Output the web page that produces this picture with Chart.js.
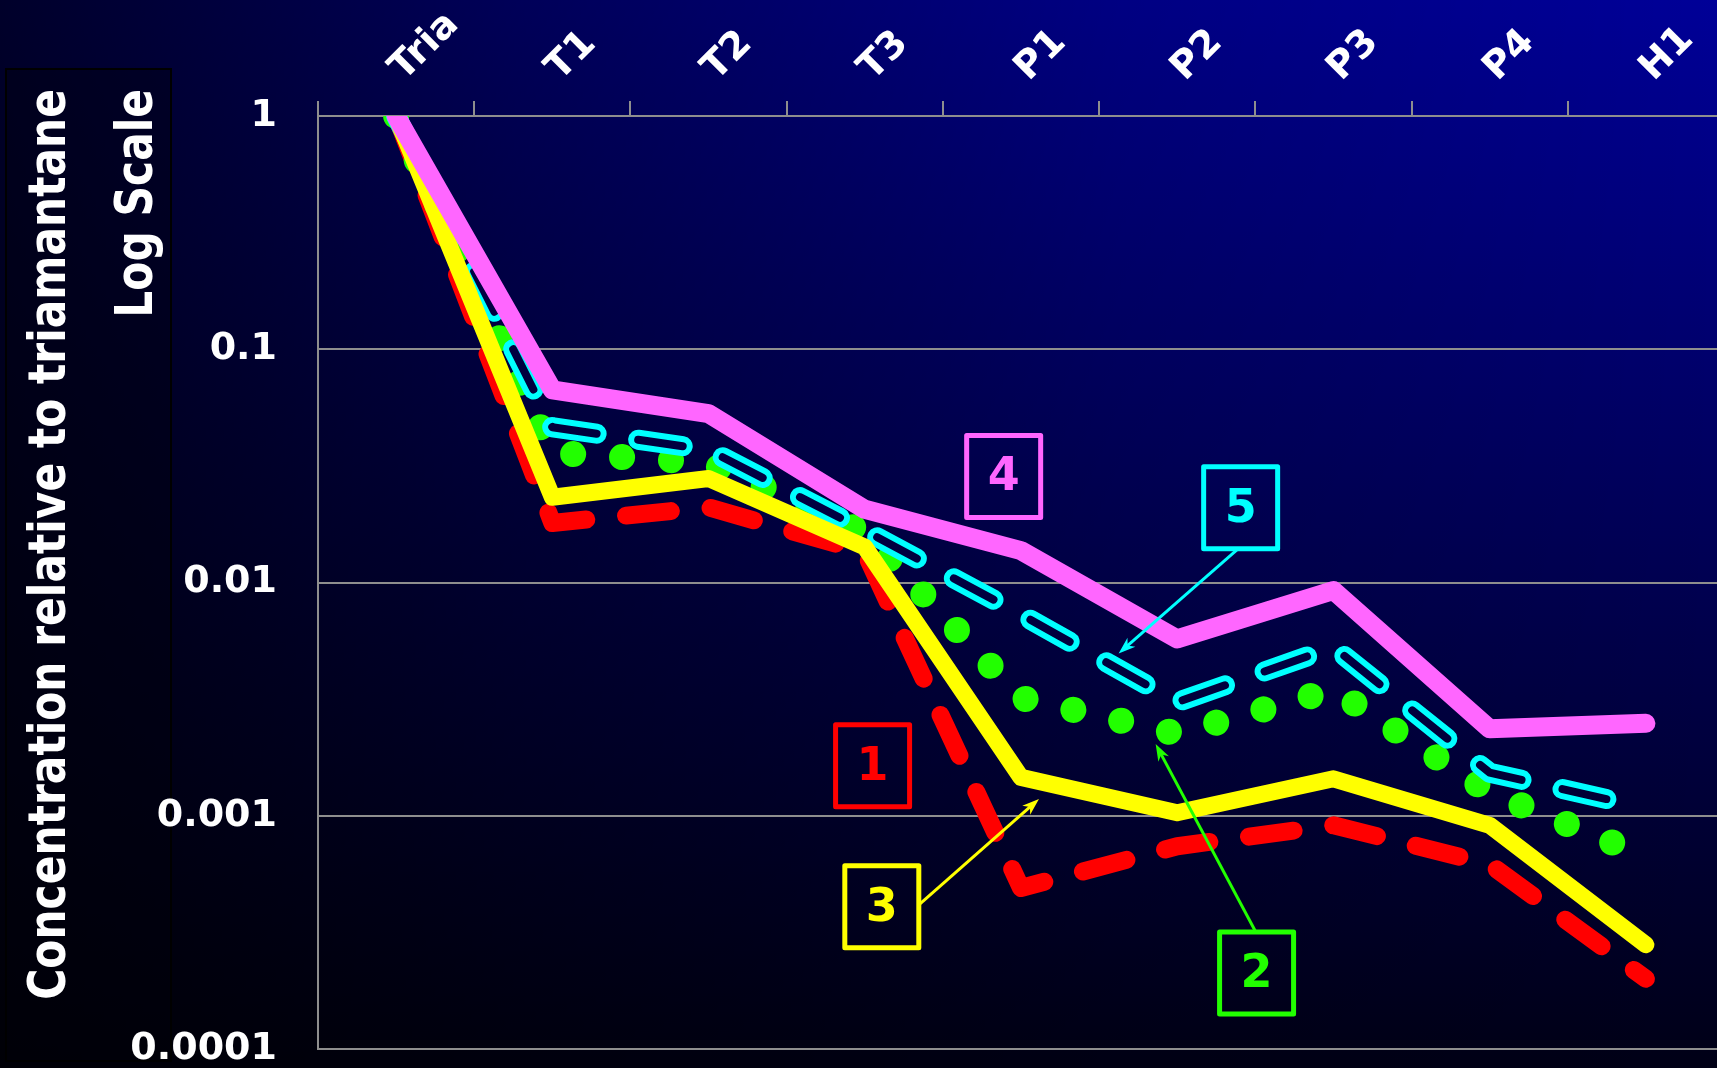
<!DOCTYPE html>
<html>
<head>
<meta charset="utf-8">
<script src="https://cdn.jsdelivr.net/npm/chart.js@4.4.1/dist/chart.umd.min.js"></script>
<style>
html, body { margin: 0; padding: 0; overflow: hidden; width: 1717px; height: 1068px; background: #000018; }
#wrap {
  position: absolute; left: 0; top: 0; width: 1724px; height: 1068px;
  background:
    linear-gradient(to right, rgba(0,0,0,0.72) 0%, rgba(0,0,0,0.42) 30%, rgba(0,0,0,0.14) 65%, rgba(0,0,0,0) 100%),
    linear-gradient(to bottom, #000098 0%, #000016 100%);
}
canvas { display: block; }
</style>
</head>
<body>
<div id="wrap"><canvas id="c" width="1724" height="1068"></canvas></div>
<script>
// ---- data ----
const categories = ['Tria', 'T1', 'T2', 'T3', 'P1', 'P2', 'P3', 'P4', 'H1'];
const series1 = [1, 0.018, 0.021, 0.0135, 0.00049, 0.00074, 0.00091, 0.00062, 0.0002];
const series2 = [1, 0.036, 0.0327, 0.0164, 0.0032, 0.00225, 0.00347, 0.00126, 0.00067];
const series3 = [1, 0.0232, 0.0279, 0.0142, 0.00146, 0.00103, 0.00144, 0.00091, 0.00028];
const series4 = [1, 0.067, 0.053, 0.0206, 0.0137, 0.00573, 0.00924, 0.00236, 0.00249];
const series5 = [1, 0.0463, 0.037, 0.0167, 0.0073, 0.00307, 0.00528, 0.00153, 0.00108];
const yTickValues = [0.0001, 0.001, 0.01, 0.1, 1];
const yTickLabels = ['0.0001', '0.001', '0.01', '0.1', '1'];
const yTitleLines = ['Concentration relative to triamantane', 'Log Scale'];
const seriesLabels = ['1', '2', '3', '4', '5'];

// callout boxes, placed in data coordinates (category index, value)
const callouts = [
  { text: '1', color: '#ff0000', x: 3.05, y: 0.00164 },
  { text: '2', color: '#22ff00', x: 5.508, y: 0.000212, from: [5.502, 0.000318], to: [4.862, 0.00203] },
  { text: '3', color: '#ffff00', x: 3.109, y: 0.000407, from: [3.346, 0.000415], to: [4.115, 0.00118] },
  { text: '4', color: '#ff66ff', x: 3.889, y: 0.0285 },
  { text: '5', color: '#00ffff', x: 5.406, y: 0.0209, from: [5.393, 0.0140], to: [4.625, 0.00496] }
];

const GRID = '#8e8e8e';
const FONT = '"DejaVu Sans", Verdana, sans-serif';

const titleBoxPlugin = {
  id: 'titleBox',
  beforeDraw(chart) {
    const ctx = chart.ctx;
    ctx.save();
    ctx.fillStyle = 'rgba(0,0,12,0.35)';
    ctx.fillRect(6, 69, 165, 992);
    ctx.strokeStyle = '#000000';
    ctx.lineWidth = 2;
    ctx.strokeRect(6, 69, 165, 992);
    ctx.fillStyle = '#ffffff';
    ctx.font = 'bold 52px ' + FONT;
    ctx.textAlign = 'right';
    ctx.textBaseline = 'alphabetic';
    const baselines = [65, 152];
    yTitleLines.forEach((t, i) => {
      ctx.save();
      ctx.translate(baselines[i], 89);
      ctx.rotate(-Math.PI / 2);
      ctx.scale(0.815, 1);
      ctx.fillText(t, 0, 0);
      ctx.restore();
    });
    ctx.restore();
  }
};

const hollowPlugin = {
  id: 'hollow',
  beforeDatasetDraw(chart, args) {
    if (chart.data.datasets[args.index].hollowInner) {
      chart.ctx.save();
      chart.ctx.globalCompositeOperation = 'destination-out';
    }
  },
  afterDatasetDraw(chart, args) {
    if (chart.data.datasets[args.index].hollowInner) {
      chart.ctx.restore();
    }
  }
};

const calloutPlugin = {
  id: 'callouts',
  afterDatasetsDraw(chart) {
    const ctx = chart.ctx;
    const xs = chart.scales.x, ys = chart.scales.y;
    ctx.save();
    callouts.forEach(c => {
      const cx = xs.getPixelForValue(c.x), cy = ys.getPixelForValue(c.y);
      const w = 74, h = 82;
      ctx.strokeStyle = c.color;
      ctx.fillStyle = c.color;
      ctx.lineWidth = 5;
      ctx.lineJoin = 'round';
      ctx.strokeRect(cx - w / 2, cy - h / 2, w, h);
      ctx.font = 'bold 46px ' + FONT;
      ctx.textAlign = 'center';
      ctx.textBaseline = 'middle';
      ctx.fillText(c.text, cx, cy + 2);
      if (c.from) {
        const sx = xs.getPixelForValue(c.from[0]), sy = ys.getPixelForValue(c.from[1]);
        const tx = xs.getPixelForValue(c.to[0]), ty = ys.getPixelForValue(c.to[1]);
        const a = Math.atan2(ty - sy, tx - sx);
        const ca = Math.cos(a), sa = Math.sin(a);
        ctx.lineWidth = 3;
        ctx.lineCap = 'butt';
        ctx.beginPath();
        ctx.moveTo(sx, sy);
        ctx.lineTo(tx - 10 * ca, ty - 10 * sa);
        ctx.stroke();
        ctx.beginPath();
        ctx.moveTo(tx, ty);
        ctx.lineTo(tx - 17 * ca + 6 * sa, ty - 17 * sa - 6 * ca);
        ctx.lineTo(tx - 12 * ca, ty - 12 * sa);
        ctx.lineTo(tx - 17 * ca - 6 * sa, ty - 17 * sa + 6 * ca);
        ctx.closePath();
        ctx.fill();
      }
    });
    ctx.restore();
  }
};

const common = {
  fill: false, tension: 0, pointRadius: 0, pointHoverRadius: 0,
  borderCapStyle: 'round', borderJoinStyle: 'round', clip: 0
};
const cyanDash = [45, 42];

const datasets = [
  Object.assign({ label: seriesLabels[3], data: series4, borderColor: '#ff66ff', borderWidth: 19, order: 1 }, common),
  Object.assign({ label: seriesLabels[2], data: series3, borderColor: '#ffff00', borderWidth: 17, order: 2 }, common),
  Object.assign({ label: seriesLabels[4] + ' inner', data: series5, borderColor: '#000000', borderWidth: 8, borderDash: cyanDash, order: 3, hollowInner: true }, common),
  Object.assign({ label: seriesLabels[4], data: series5, borderColor: '#00ffff', borderWidth: 20, borderDash: cyanDash, order: 4 }, common),
  Object.assign({ label: seriesLabels[1], data: series2, borderColor: '#22ff00', borderWidth: 26, borderDash: [0.01, 49], order: 5 }, common),
  Object.assign({ label: seriesLabels[0], data: series1, borderColor: '#ff0000', borderWidth: 18, borderDash: [45, 40], order: 6 }, common)
];

new Chart(document.getElementById('c'), {
  type: 'line',
  data: { labels: categories, datasets },
  plugins: [titleBoxPlugin, hollowPlugin, calloutPlugin],
  options: {
    responsive: false,
    animation: false,
    devicePixelRatio: 1,
    layout: { autoPadding: false, padding: { top: 0, left: 0, right: 0, bottom: 19 } },
    plugins: { legend: { display: false }, tooltip: { enabled: false }, title: { display: false } },
    scales: {
      x: {
        type: 'category',
        position: 'top',
        offset: true,
        afterFit(s) { s.height = 116; s.paddingLeft = 0; s.paddingRight = 0; s.paddingTop = 0; s.paddingBottom = 0; },
        grid: { display: true, offset: true, drawOnChartArea: false, drawTicks: true, tickLength: 15, color: GRID, lineWidth: 2 },
        border: { display: true, color: GRID, width: 2 },
        ticks: {
          autoSkip: false, minRotation: 45, maxRotation: 45, padding: 10, labelOffset: 33,
          color: '#ffffff', font: { family: FONT, weight: 'bold', size: 38 }
        }
      },
      y: {
        type: 'logarithmic',
        position: 'left',
        min: 0.0001,
        max: 1,
        afterFit(s) { s.width = 318; s.paddingTop = 0; s.paddingBottom = 0; s.paddingLeft = 0; s.paddingRight = 0; },
        afterBuildTicks(s) { s.ticks = yTickValues.map(v => ({ value: v })); },
        grid: { display: true, drawOnChartArea: true, drawTicks: false, color: GRID, lineWidth: 2 },
        border: { display: true, color: GRID, width: 2 },
        ticks: {
          padding: 41,
          color: '#ffffff',
          font: { family: FONT, weight: 'bold', size: 38 },
          callback: (v, i) => yTickLabels[i]
        }
      }
    }
  }
});
</script>
</body>
</html>
